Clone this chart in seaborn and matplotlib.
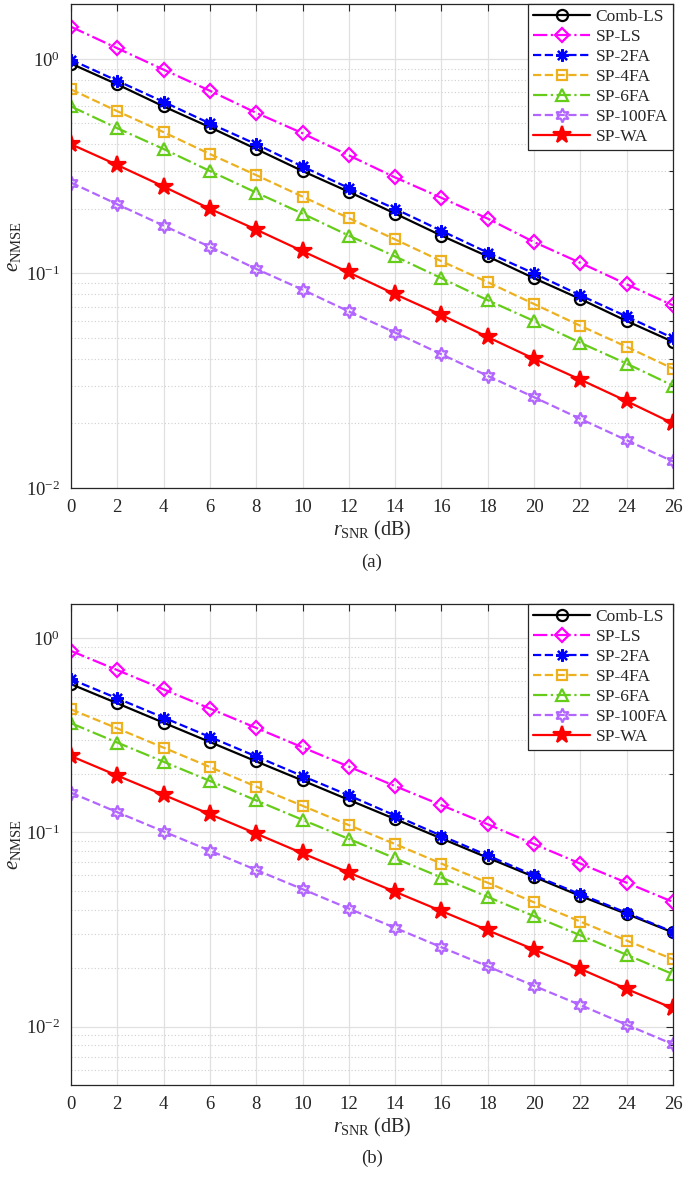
import numpy as np
import pandas as pd
import seaborn as sns
import matplotlib
matplotlib.use("Agg")
import matplotlib.pyplot as plt
from matplotlib.ticker import LogLocator, NullFormatter

snr = [0, 2, 4, 6, 8, 10, 12, 14, 16, 18, 20, 22, 24, 26]
labels = ["Comb-LS", "SP-LS", "SP-2FA", "SP-4FA", "SP-6FA", "SP-100FA", "SP-WA"]

# (a)
a_comb = [0.95, 0.76, 0.60, 0.48, 0.38, 0.30, 0.24, 0.19, 0.15, 0.12, 0.095, 0.076, 0.060, 0.048]
a_ls = [1.41, 1.12, 0.89, 0.71, 0.56, 0.45, 0.355, 0.28, 0.225, 0.18, 0.14, 0.112, 0.089, 0.071]
a_2fa = [0.99, 0.79, 0.63, 0.50, 0.40, 0.315, 0.25, 0.20, 0.158, 0.125, 0.10, 0.079, 0.063, 0.050]
a_4fa = [0.72, 0.57, 0.455, 0.36, 0.287, 0.228, 0.181, 0.144, 0.114, 0.091, 0.072, 0.057, 0.0455, 0.036]
a_6fa = [0.60, 0.475, 0.38, 0.30, 0.238, 0.19, 0.15, 0.12, 0.095, 0.075, 0.060, 0.0475, 0.038, 0.030]
a_100fa = [0.265, 0.21, 0.167, 0.133, 0.105, 0.084, 0.0665, 0.053, 0.042, 0.0333, 0.0265, 0.021, 0.0167, 0.0133]
a_wa = [0.40, 0.32, 0.254, 0.20, 0.16, 0.127, 0.101, 0.080, 0.064, 0.0505, 0.040, 0.032, 0.0254, 0.020]

# (b)
b_comb = [0.58, 0.462, 0.367, 0.292, 0.232, 0.185, 0.147, 0.117, 0.093, 0.074, 0.059, 0.047, 0.038, 0.0305]
b_ls = [0.86, 0.685, 0.545, 0.434, 0.345, 0.274, 0.218, 0.173, 0.138, 0.11, 0.087, 0.069, 0.055, 0.0438]
b_2fa = [0.615, 0.49, 0.39, 0.31, 0.246, 0.195, 0.155, 0.122, 0.096, 0.076, 0.060, 0.048, 0.0385, 0.0307]
b_4fa = [0.43, 0.343, 0.273, 0.217, 0.172, 0.137, 0.109, 0.087, 0.069, 0.055, 0.0436, 0.0347, 0.0277, 0.0222]
b_6fa = [0.365, 0.29, 0.231, 0.184, 0.146, 0.116, 0.0925, 0.0735, 0.0585, 0.0465, 0.037, 0.0295, 0.0234, 0.0186]
b_100fa = [0.16, 0.127, 0.101, 0.0805, 0.064, 0.051, 0.0405, 0.0322, 0.0256, 0.0204, 0.0162, 0.0129, 0.0102, 0.0081]
b_wa = [0.247, 0.196, 0.156, 0.124, 0.0985, 0.078, 0.062, 0.0494, 0.0393, 0.0313, 0.0249, 0.0198, 0.0156, 0.0124]

sns.set_theme(style="white")
plt.rcParams["font.family"] = ["Liberation Serif", "DejaVu Serif"]
plt.rcParams["mathtext.fontset"] = "custom"
plt.rcParams["mathtext.rm"] = "Liberation Serif"
plt.rcParams["mathtext.it"] = "Liberation Serif:italic"
plt.rcParams["mathtext.bf"] = "Liberation Serif:bold"

styles = {
    "Comb-LS": dict(color="#000000", ls="-", marker="o", mfc="none", ms=8),
    "SP-LS": dict(color="#FF00FF", ls="-.", marker="D", mfc="none", ms=7.5),
    "SP-2FA": dict(color="#0000FF", ls="--", marker=(8, 2, 0), mfc="#0000FF", ms=9),
    "SP-4FA": dict(color="#EDB120", ls="--", marker="s", mfc="none", ms=6.5),
    "SP-6FA": dict(color="#66CC1A", ls="-.", marker="^", mfc="none", ms=9),
    "SP-100FA": dict(color="#B266FF", ls="--", marker=(6, 1, 0), mfc="none", ms=10),
    "SP-WA": dict(color="#FF0000", ls="-", marker="*", mfc="#FF0000", ms=13),
}

fig = plt.figure(figsize=(6.85, 11.82), dpi=100)
ax_a = fig.add_axes([0.1036, 0.5871, 0.8789, 0.4095])
ax_b = fig.add_axes([0.1036, 0.0821, 0.8789, 0.4069])

panels = [
    (ax_a, [a_comb, a_ls, a_2fa, a_4fa, a_6fa, a_100fa, a_wa], (1e-2, 1.8), "(a)"),
    (ax_b, [b_comb, b_ls, b_2fa, b_4fa, b_6fa, b_100fa, b_wa], (5e-3, 1.5), "(b)"),
]

for ax, series, ylim, tag in panels:
    for lab, vals in zip(labels, series):
        st = styles[lab]
        sns.lineplot(x=snr, y=vals, ax=ax, label=lab, color=st["color"],
                     linestyle=st["ls"], marker=st["marker"], markersize=st["ms"],
                     markerfacecolor=st["mfc"], markeredgecolor=st["color"],
                     markeredgewidth=1.6, linewidth=1.6)
    ax.set_yscale("log")
    ax.set_xlim(0, 26)
    ax.set_ylim(*ylim)
    ax.set_xticks(snr)
    ax.yaxis.set_major_locator(LogLocator(base=10, numticks=10))
    ax.yaxis.set_minor_locator(LogLocator(base=10, subs=np.arange(2, 10), numticks=20))
    ax.yaxis.set_minor_formatter(NullFormatter())
    ax.grid(True, which="major", color="#E0E0E0", linestyle="-", linewidth=0.9)
    ax.grid(True, which="minor", axis="y", color="#CFCFCF", linestyle=(0, (1, 2)), linewidth=0.8)
    ax.set_axisbelow(True)
    ax.tick_params(which="both", direction="in", top=True, right=True, labelsize=13.5,
                   color="#262626", width=0.8)
    ax.tick_params(which="major", length=5, pad=8)
    ax.tick_params(which="minor", length=3)
    for sp in ax.spines.values():
        sp.set_color("#262626")
        sp.set_linewidth(0.9)
    ax.set_xlabel(r"$r_{\mathrm{SNR}}$ (dB)", fontsize=14.5, labelpad=2)
    ax.set_ylabel(r"$e_{\mathrm{NMSE}}$", fontsize=15, labelpad=2)
    leg = ax.legend(loc="upper right", fontsize=12.5, frameon=True, fancybox=False,
                    edgecolor="#262626", framealpha=1, borderaxespad=0,
                    handlelength=3.3, handletextpad=0.3, labelspacing=0.22,
                    borderpad=0.3)
    leg.get_frame().set_linewidth(0.9)
    ax.text(0.5, -0.135, tag, transform=ax.transAxes, ha="center", va="top", fontsize=13.5)

fig.savefig("out.png", dpi=100)
